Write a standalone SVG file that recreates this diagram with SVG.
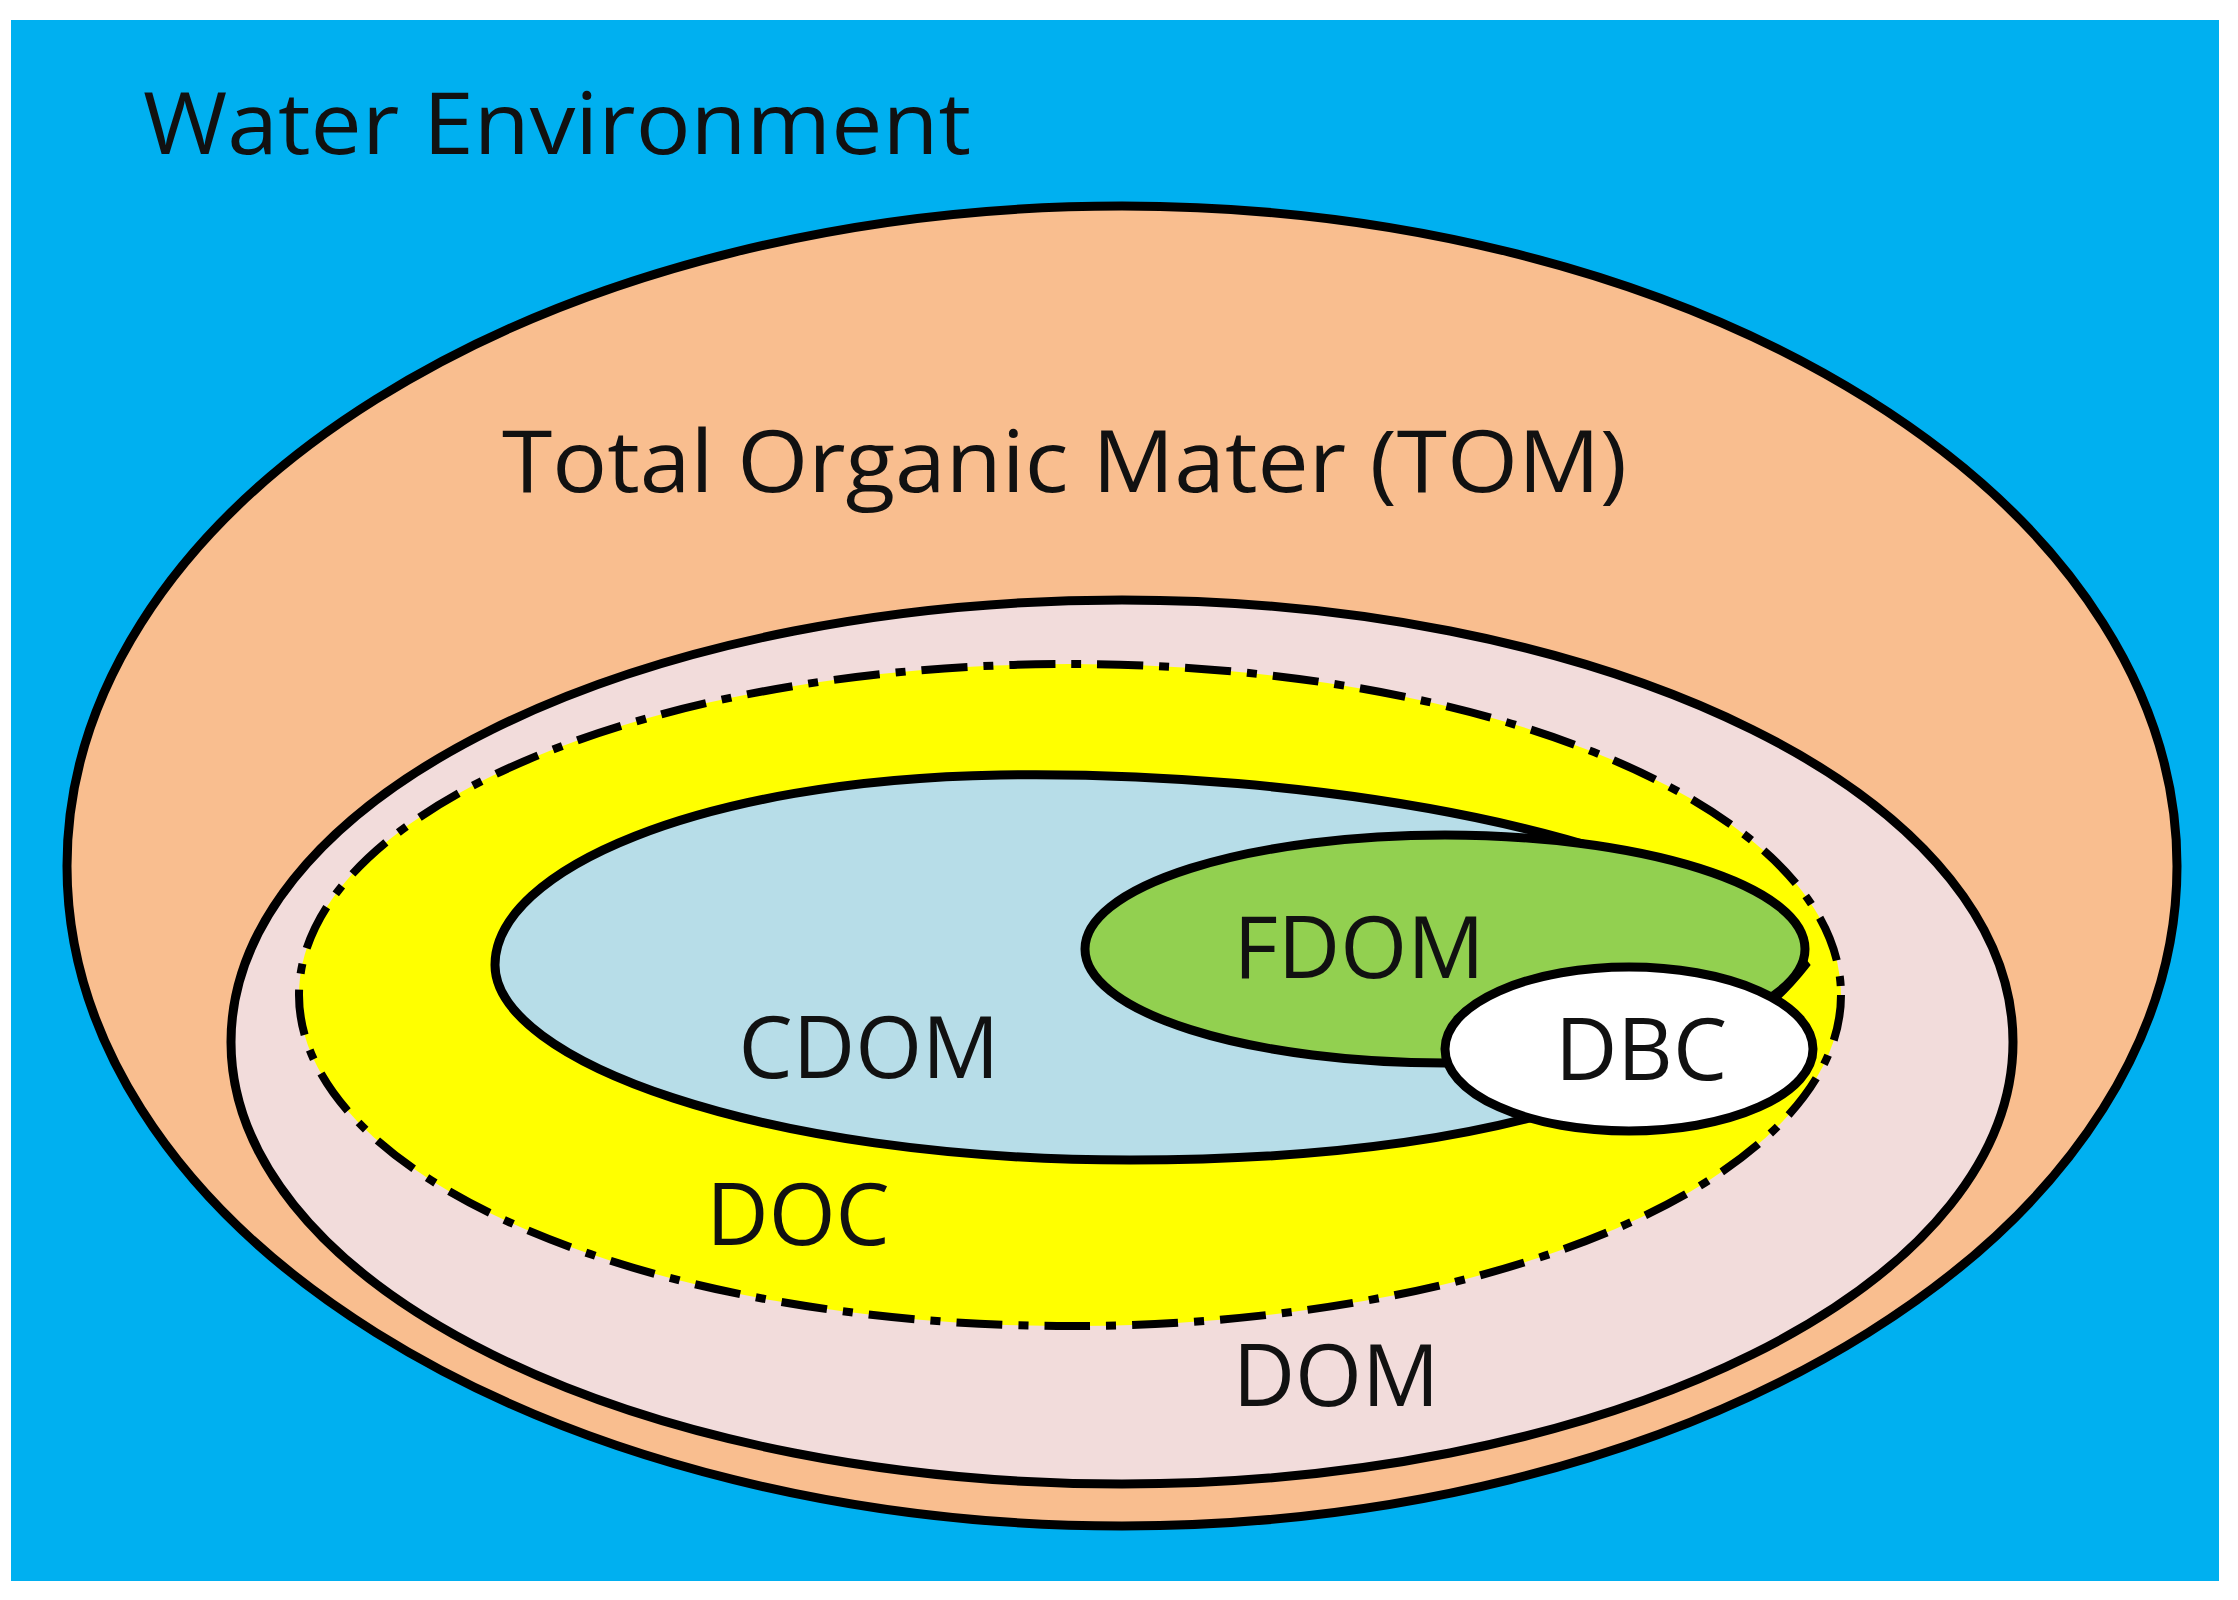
<svg xmlns="http://www.w3.org/2000/svg" width="2238" height="1600" viewBox="0 0 2238 1600">
<style>
.o{stroke:#000;stroke-width:9}
text{font-family:"Open Sans","Liberation Sans",sans-serif;font-size:86px;fill:#111}
.c{text-anchor:middle}
</style>
<rect width="2238" height="1600" fill="#fff"/>
<rect x="11" y="20" width="2208" height="1561" fill="#00b0f0"/>
<g id="tom"><ellipse class="o" cx="1122" cy="866" rx="1055" ry="660" fill="#f9be8f"/></g>
<g id="dom"><ellipse class="o" cx="1122" cy="1042" rx="891" ry="442" fill="#f2dcdb"/></g>
<g id="doc"><ellipse cx="1070" cy="995" rx="771" ry="331" fill="#ffff00" stroke="#000" stroke-width="8" stroke-dasharray="46 16 10 16"/></g>
<g id="cdom"><path class="o" fill="#b7dde8" d="M1805,965 C1700,830 1300,770 1000,775 C700,780 495,870 495,965 C495,1060 760,1160 1130,1160 C1450,1160 1700,1100 1805,965 Z"/></g>
<g id="fdom"><ellipse class="o" cx="1445" cy="949" rx="360" ry="114" fill="#92d050"/></g>
<g id="dbc"><ellipse class="o" cx="1629" cy="1049" rx="184" ry="82" fill="#fff"/></g>
<g id="labels">
<text x="143" y="154" textLength="828" lengthAdjust="spacingAndGlyphs">Water Environment</text>
<text x="502" y="492" textLength="1125" lengthAdjust="spacingAndGlyphs">Total Organic Mater (TOM)</text>
<text class="c" x="1359" y="978">FDOM</text>
<text class="c" x="869" y="1078">CDOM</text>
<text class="c" x="1641" y="1080">DBC</text>
<text class="c" x="798" y="1245">DOC</text>
<text class="c" x="1336" y="1406">DOM</text>
</g>
<g id="connectors"/>
</svg>
